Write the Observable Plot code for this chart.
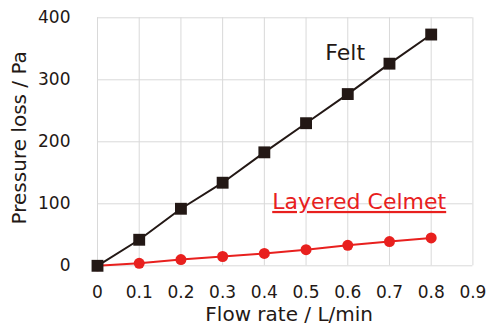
<!DOCTYPE html>
<html>
<head>
<meta charset="utf-8">
<script src="https://cdn.jsdelivr.net/npm/d3@7"></script>
<script src="https://cdn.jsdelivr.net/npm/@observablehq/plot@0.6"></script>
<style>
  html, body { margin: 0; padding: 0; background: #fff; }
  #chart svg { display: block; }
</style>
</head>
<body>
<div id="chart"></div>
<script>
const flowRates = [0, 0.1, 0.2, 0.3, 0.4, 0.5, 0.6, 0.7, 0.8];
const feltLoss = [0, 42, 92, 134, 183, 230, 277, 326, 373];
const celmetLoss = [0, 4, 10, 15, 20, 26, 33, 39, 45];
const xTicks = [0, 0.1, 0.2, 0.3, 0.4, 0.5, 0.6, 0.7, 0.8, 0.9];
const yTicks = [0, 100, 200, 300, 400];
const seriesNames = ["Felt", "Layered Celmet"];
const xTitle = "Flow rate / L/min";
const yTitle = "Pressure loss / Pa";

const rows = flowRates.map((x, i) => ({x, felt: feltLoss[i], celmet: celmetLoss[i]}));
const last = [rows[rows.length - 1]];

const ink = "#231815";
const red = "#e8201e";
const gridColor = "#d9d9d9";

const chart = Plot.plot({
  width: 486,
  height: 327,
  marginLeft: 97,
  marginRight: 13.6,
  marginTop: 17.3,
  marginBottom: 61.7,
  style: {fontFamily: "'DejaVu Sans', sans-serif", fontSize: "17px", color: ink, background: "#fff"},
  x: {domain: [0, 0.9]},
  y: {domain: [0, 400]},
  marks: [
    Plot.gridX({ticks: xTicks, stroke: gridColor, strokeOpacity: 1, strokeWidth: 1}),
    Plot.gridY({ticks: yTicks, stroke: gridColor, strokeOpacity: 1, strokeWidth: 1}),
    Plot.axisX({ticks: xTicks, tickSize: 0, tickPadding: 20, tickFormat: d => String(d), label: null, fill: ink}),
    Plot.axisY({ticks: yTicks, tickSize: 0, tickPadding: 27, label: null, fill: ink}),
    Plot.line(rows, {x: "x", y: "celmet", stroke: red, strokeWidth: 2}),
    Plot.dot(rows, {x: "x", y: "celmet", r: 5.5, fill: red, stroke: "none"}),
    Plot.line(rows, {x: "x", y: "felt", stroke: ink, strokeWidth: 2}),
    Plot.dot(rows, {x: "x", y: "felt", symbol: "square", r: 6.7, fill: ink, stroke: "none"}),
    Plot.text(last, {x: "x", y: "felt", text: () => seriesNames[0], dx: -86, dy: 18, fontSize: 22, fill: ink, lineAnchor: "middle"}),
    Plot.text(last, {x: "x", y: "celmet", text: () => seriesNames[1], dx: -72, dy: -36, fontSize: 22, fill: red, lineAnchor: "middle"}),
    Plot.text([xTitle], {text: d => d, frameAnchor: "bottom", textAnchor: "middle", lineAnchor: "middle", dx: 4, dy: 48.3, fontSize: 20, fill: ink}),
    Plot.text([yTitle], {text: d => d, frameAnchor: "left", textAnchor: "middle", lineAnchor: "middle", rotate: -90, dx: -78.4, dy: -4, fontSize: 20, fill: ink})
  ]
});

d3.select(chart).selectAll("text")
  .filter(function() { return this.textContent === seriesNames[1]; })
  .attr("text-decoration", "underline");

document.getElementById("chart").appendChild(chart);
</script>
</body>
</html>
